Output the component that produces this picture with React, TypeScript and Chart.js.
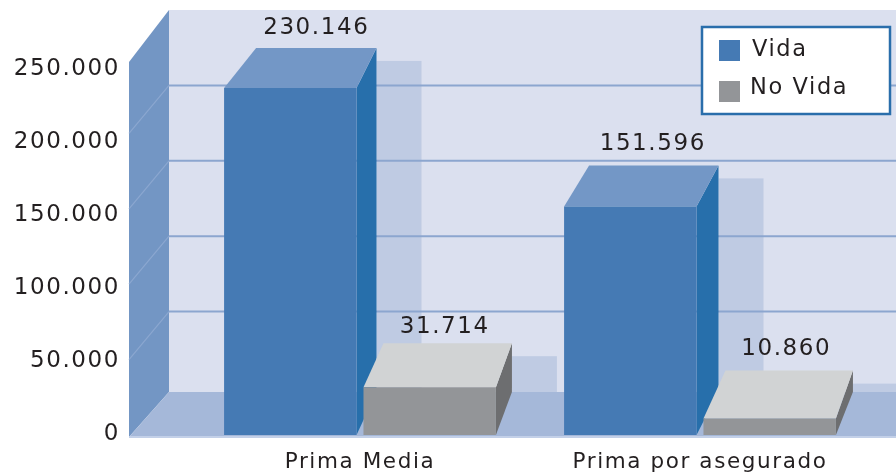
import React, { useEffect, useRef } from "react";
import { Chart, registerables } from "chart.js";

Chart.register(...registerables);

const categories = ["Prima Media", "Prima por asegurado"];
const seriesNames = ["Vida", "No Vida"];
const vidaValues = [230146, 151596];
const noVidaValues = [31714, 10860];
const tickValues = [0, 50000, 100000, 150000, 200000, 250000];

const FONT = "'DejaVu Sans', sans-serif";
const INK = "#231f20";
const COLORS = [
  { front: "#457ab4", side: "#276fab", top: "#7397c6" },
  { front: "#939598", side: "#6d6e70", top: "#d1d3d4" },
];
// Oblique projection of each bar: [series][category]
const DEPTH = [
  [{ l: 32, r: 20, dy: 40, label: 20, shift: 0 }, { l: 25, r: 22, dy: 41, label: 21, shift: -1 }],
  [{ l: 20, r: 16, dy: 44, label: 16, shift: -3 }, { l: 22, r: 17, dy: 48, label: 22, shift: -3 }],
];
const W = 896;
const fmt = (v: number) => String(v).replace(/\B(?=(\d{3})+(?!\d))/g, ".");

const poly = (ctx: CanvasRenderingContext2D, pts: number[][], fill: string) => {
  ctx.beginPath();
  pts.forEach(([x, y], i) => (i ? ctx.lineTo(x, y) : ctx.moveTo(x, y)));
  ctx.closePath();
  ctx.fillStyle = fill;
  ctx.fill();
};

const scene3d = {
  id: "scene3d",
  beforeDraw(chart: any) {
    const ctx: any = chart.ctx;
    ctx.letterSpacing = "1.6px";
    const y = chart.scales.y;
    const wallL = 129, wallB = 169, backFloor = 392, frontFloor = 437;
    const top0 = y.getPixelForValue(250000);
    const backTop = top0 - 48;
    ctx.save();
    ctx.fillStyle = "#dbe0ef";
    ctx.fillRect(wallB, backTop, W - wallB, backFloor - backTop);
    poly(ctx, [[wallL, top0 + 4], [wallB, backTop], [wallB, backFloor], [wallL, frontFloor]], "#7396c4");
    poly(ctx, [[wallL, frontFloor], [wallB, backFloor], [W, backFloor], [W, frontFloor]], "#a5b8d9");
    ctx.fillStyle = "#c3d0e8";
    ctx.fillRect(wallL, frontFloor - 1, W - wallL, 2);
    ctx.restore();
  },
  beforeDatasetsDraw(chart: any) {
    const ctx: any = chart.ctx;
    const y = chart.scales.y;
    const wallL = 129, wallB = 169, backFloor = 392;
    ctx.save();
    // cast shadows on the back wall
    chart.data.datasets.forEach((_: any, s: number) => {
      chart.getDatasetMeta(s).data.forEach((bar: any, c: number) => {
        const d = DEPTH[s][c];
        const xr = bar.x + bar.width / 2 + d.r;
        const t = bar.y - d.dy + 13;
        ctx.fillStyle = "#bfcbe3";
        ctx.fillRect(xr, t, 45, backFloor - t);
      });
    });
    // grid lines on the back and side walls
    tickValues.slice(1, -1).forEach((v) => {
      const py = y.getPixelForValue(v);
      ctx.strokeStyle = "#8ca6cf";
      ctx.lineWidth = 2;
      ctx.beginPath();
      ctx.moveTo(wallB, py - 48);
      ctx.lineTo(W, py - 48);
      ctx.stroke();
      ctx.strokeStyle = "#8ba7d0";
      ctx.lineWidth = 1.2;
      ctx.beginPath();
      ctx.moveTo(wallL, py);
      ctx.lineTo(wallB, py - 48);
      ctx.stroke();
    });
    // side and top faces of each bar
    const order: number[][] = [[0, 0], [1, 0], [0, 1], [1, 1]];
    order.forEach(([s, c]) => {
      const bar = chart.getDatasetMeta(s).data[c] as any;
      const d = DEPTH[s][c];
      const col = COLORS[s];
      const L = bar.x - bar.width / 2;
      const R = bar.x + bar.width / 2;
      const T = bar.y;
      const B = bar.base;
      poly(ctx, [[R, T], [R + d.r, T - d.dy], [R + d.r, B - 43], [R, B]], col.side);
      poly(ctx, [[L, T], [L + d.l, T - d.dy], [R + d.r, T - d.dy], [R, T]], col.top);
    });
    ctx.restore();
  },
  afterDatasetsDraw(chart: any) {
    const ctx: any = chart.ctx;
    ctx.save();
    // value labels
    ctx.font = `23px ${FONT}`;
    ctx.fillStyle = INK;
    ctx.textAlign = "center";
    ctx.textBaseline = "middle";
    chart.data.datasets.forEach((ds: any, s: number) => {
      chart.getDatasetMeta(s).data.forEach((bar: any, c: number) => {
        const d = DEPTH[s][c];
        const cx = bar.x + (d.l + d.r) / 2 + d.shift;
        ctx.fillText(fmt(ds.data[c]), cx, bar.y - d.dy - d.label);
      });
    });
    // legend
    ctx.fillStyle = "#ffffff";
    ctx.fillRect(702, 27, 188, 87);
    ctx.strokeStyle = "#2a6eab";
    ctx.lineWidth = 2.5;
    ctx.strokeRect(702, 27, 188, 87);
    ctx.textAlign = "left";
    ctx.font = `22.5px ${FONT}`;
    const rows = [
      { box: 40, text: 50, tx: 752 },
      { box: 81, text: 88, tx: 750 },
    ];
    chart.data.datasets.forEach((ds: any, i: number) => {
      ctx.fillStyle = COLORS[i].front;
      ctx.fillRect(719, rows[i].box, 21, 21);
      ctx.fillStyle = INK;
      ctx.fillText(ds.label, rows[i].tx, rows[i].text);
    });
    ctx.restore();
  },
};

export default function App() {
  const ref = useRef<HTMLCanvasElement>(null);
  useEffect(() => {
    document.body.style.margin = "0";
    document.body.style.background = "#ffffff";
    const chart = new Chart(ref.current!, {
      type: "bar",
      data: {
        labels: categories,
        datasets: [
          { label: seriesNames[0], data: vidaValues, backgroundColor: COLORS[0].front, yAxisID: "y" },
          { label: seriesNames[1], data: noVidaValues, backgroundColor: COLORS[1].front, yAxisID: "y" },
        ],
      },
      options: {
        responsive: false,
        animation: false,
        devicePixelRatio: 1,
        categoryPercentage: 0.82,
        barPercentage: 0.95,
        layout: { padding: { top: 58, right: 26, left: 0, bottom: 0 } },
        plugins: { legend: { display: false }, tooltip: { enabled: false }, title: { display: false } },
        scales: {
          x: {
            grid: { display: false, drawTicks: false },
            border: { display: false },
            ticks: {
              color: INK,
              font: { family: FONT, size: 21.5 },
              padding: 15,
              maxRotation: 0,
              autoSkip: false,
            },
            afterFit: (s: any) => {
              s.height = 38;
              s.paddingLeft = s.paddingRight = s.paddingTop = s.paddingBottom = 0;
            },
          },
          y: { display: false, min: 0, max: 250000 },
          labels: {
            position: "left",
            min: -685,
            max: 257534,
            grid: { display: false, drawTicks: false },
            border: { display: false },
            afterBuildTicks: (s: any) => { s.ticks = tickValues.map((value) => ({ value })); },
            afterFit: (s: any) => {
              s.width = 190;
              s.paddingLeft = s.paddingRight = s.paddingTop = s.paddingBottom = 0;
            },
            ticks: {
              color: INK,
              font: { family: FONT, size: 23 },
              padding: 70,
              callback: (v: any) => fmt(Number(v)),
            },
          },
        },
      } as any,
      plugins: [scene3d as any],
    });
    return () => chart.destroy();
  }, []);
  return <canvas ref={ref} width={896} height={473} style={{ display: "block" }} />;
}
